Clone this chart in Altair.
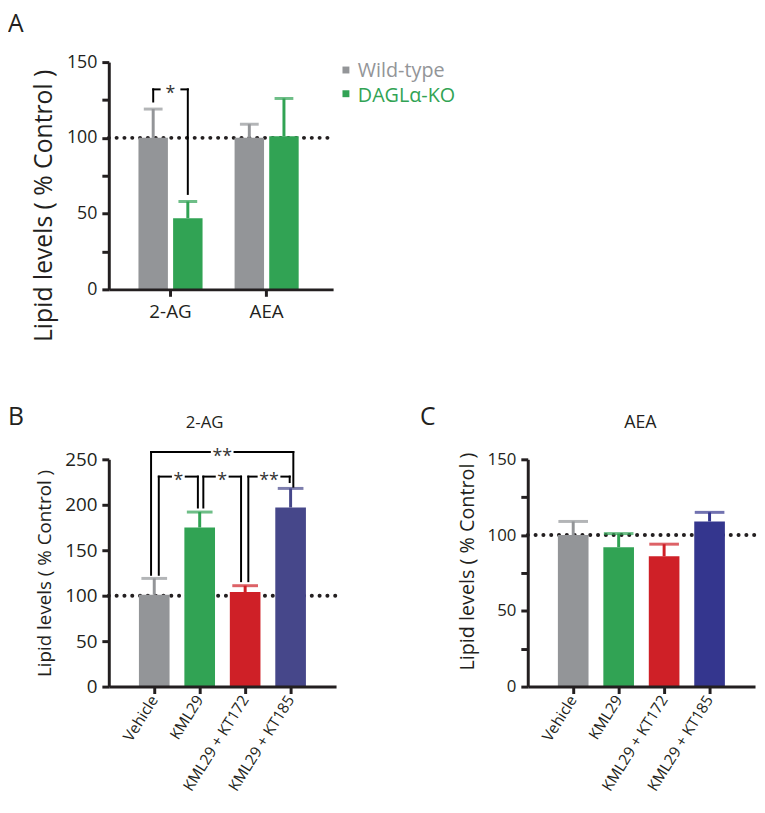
import altair as alt
import pandas as pd

FONT = "Open Sans"
INK = "#231f20"

# ---------------- data ----------------
# Panel A
lipids = ["2-AG", "AEA"]
genotypes = ["Wild-type", "DAGLα-KO"]
a_wt_mean = [100, 100]
a_wt_err = [119, 109]
a_ko_mean = [47, 101]
a_ko_err = [58, 126]
a_colors = ["#939598", "#31a354"]

# Panels B / C
treatments = ["Vehicle", "KML29", "KML29 + KT172", "KML29 + KT185"]
b_mean = [101, 175, 104, 197]
b_err = [119, 192, 111, 218]
b_colors = ["#939598", "#31a354", "#cf2027", "#46478a"]
c_mean = [100, 92, 86, 109]
c_err = [109, 101, 94, 115]
c_colors = ["#939598", "#31a354", "#cf2027", "#34368e"]

control_level = [100]

# significance brackets (x in category units, 0 = first category centre)
a_br_left = [-0.18]
a_br_right = [0.18]
a_br_level = [132]
a_br_end_left = [124]
a_br_end_right = [63]
a_br_label = ["*"]

b_br_left = [-0.07, 0.10, 1.08, 2.07]
b_br_right = [3.06, 0.96, 1.91, 2.98]
b_br_level = [258, 231, 231, 231]
b_br_end_left = [123, 123, 197, 116]
b_br_end_right = [220, 197, 116, 225]
b_br_label = ["**", "*", "*", "**"]

panel_letters = ["A", "B", "C"]
panel_titles = ["2-AG", "AEA"]
y_title = "Lipid levels ( % Control )"

# ---------------- geometry ----------------
H = 230
W_A = 227
PI_A, PO_A, AL_A = 1 / 3, 1 / 3, 0.463
W_B = 230
PI_B, PO_B = 0.326, 0.663


def band_to_linear(n, width, pi, po, align):
    step = width / (n - pi + 2 * po)
    start = (width - step * (n - pi)) * align
    c0 = start + step * (1 - pi) / 2
    return [-c0 / step, (width - c0) / step], step


def bracket_frames(left, right, level, end_l, end_r, labels, gap_px, step):
    segs, stars = [], []
    for xl, xr, yl, el, er, lab in zip(left, right, level, end_l, end_r, labels):
        xc = (xl + xr) / 2
        g = gap_px[lab] / step / 2
        segs += [
            dict(x=xl, x2=xl, y=yl, y2=el),
            dict(x=xr, x2=xr, y=yl, y2=er),
            dict(x=xl, x2=xc - g, y=yl, y2=yl),
            dict(x=xc + g, x2=xr, y=yl, y2=yl),
        ]
        stars.append(dict(x=xc, y=yl, label=lab))
    return pd.DataFrame(segs), pd.DataFrame(stars)


def y_axis(values, label_every, label_size, title_size, title_y=None):
    kw = dict(
        values=values,
        labelExpr=f"datum.value % {label_every} == 0 ? datum.label : ''",
        title=y_title, titleFontSize=title_size, titleFontWeight="normal",
        titleColor=INK, titleFont=FONT, titlePadding=10,
        labelFontSize=label_size, labelColor=INK, labelFont=FONT, labelPadding=5,
        tickSize=7, tickWidth=3, tickColor=INK, domainColor=INK, domainWidth=3,
        grid=False, zindex=1,
    )
    if title_y is not None:
        kw["titleY"] = title_y
    return alt.Axis(**kw)


def x_axis(angle, size, pad):
    return alt.Axis(title=None, labelAngle=angle, labelFontSize=size, labelColor=INK,
                    labelFont=FONT, labelPadding=pad, tickSize=7, tickWidth=3,
                    tickColor=INK, domainColor=INK, domainWidth=3, zindex=1)


def dotted(width, yscale, yax):
    return alt.Chart(pd.DataFrame({"ref": control_level})).mark_rule(
        strokeDash=[0.1, 7.8], strokeCap="round", strokeWidth=4, color=INK
    ).encode(y=alt.Y("ref:Q", scale=yscale, axis=yax), x=alt.value(0), x2=alt.value(width))


def bracket_layers(seg_df, star_df, dom, yscale, yax, star_size):
    xs = alt.Scale(domain=dom, nice=False, zero=False)
    lines = alt.Chart(seg_df).mark_rule(strokeWidth=2, strokeCap="square", color="#000000").encode(
        x=alt.X("x:Q", scale=xs, axis=None), x2="x2:Q",
        y=alt.Y("y:Q", scale=yscale, axis=yax), y2="y2:Q")
    stars = alt.Chart(star_df).mark_text(fontSize=star_size, font=FONT, color="#333333",
                                         baseline="middle", dy=5).encode(
        x=alt.X("x:Q", scale=xs, axis=None),
        y=alt.Y("y:Q", scale=yscale, axis=yax), text="label:N")
    return [lines, stars]


def text_layer(txt, x, y, size, align="left", baseline="top"):
    return alt.Chart(pd.DataFrame({"t": [txt]})).mark_text(
        align=align, baseline=baseline, fontSize=size, font=FONT, color=INK
    ).encode(x=alt.value(x), y=alt.value(y), text="t:N")


# ---------------- panel A ----------------
a_df = pd.DataFrame({
    "lipid": lipids * 2,
    "genotype": [genotypes[0]] * len(lipids) + [genotypes[1]] * len(lipids),
    "mean": a_wt_mean + a_ko_mean,
    "err": a_wt_err + a_ko_err,
})
a_dom, a_step = band_to_linear(len(lipids), W_A, PI_A, PO_A, AL_A)
yscale_a = alt.Scale(domain=[0, 150], nice=False)
yax_a = y_axis(list(range(0, 151, 25)), 50, 18, 25, 145)


def x_a(axis):
    return alt.X("lipid:N", sort=lipids,
                 scale=alt.Scale(domain=lipids, paddingInner=PI_A, paddingOuter=PO_A, align=AL_A),
                 axis=axis)


xoff_a = alt.XOffset("genotype:N", sort=genotypes,
                     scale=alt.Scale(domain=genotypes, paddingInner=0.15, paddingOuter=0))
color_a = alt.Color("genotype:N", scale=alt.Scale(domain=genotypes, range=a_colors), legend=None)
base_a = alt.Chart(a_df)
bars_a = base_a.mark_bar().encode(
    x=x_a(x_axis(0, 19, 6)), xOffset=xoff_a,
    y=alt.Y("mean:Q", scale=yscale_a, axis=yax_a), color=color_a)
err_a = base_a.mark_rule(strokeWidth=3).encode(
    x=x_a(None), xOffset=xoff_a,
    y=alt.Y("mean:Q", scale=yscale_a, axis=yax_a), y2="err:Q", color=color_a)
cap_a = base_a.mark_tick(thickness=3, size=19).encode(
    x=x_a(None), xOffset=xoff_a,
    y=alt.Y("err:Q", scale=yscale_a, axis=yax_a), color=color_a)
seg_a, star_a = bracket_frames(a_br_left, a_br_right, a_br_level, a_br_end_left,
                               a_br_end_right, a_br_label, {"*": 22, "**": 30}, a_step)
legend_a = []
for i, (g, col) in enumerate(zip(genotypes, a_colors)):
    d = pd.DataFrame({"name": [g]})
    legend_a.append(alt.Chart(d).mark_square(size=49, opacity=1, color=col).encode(
        x=alt.value(240), y=alt.value(8 + 24 * i)))
    legend_a.append(alt.Chart(d).mark_text(align="left", baseline="middle", fontSize=20,
                                           font=FONT, color=col).encode(
        x=alt.value(252), y=alt.value(9 + 25 * i), text="name:N"))

panel_a = alt.layer(
    dotted(W_A, yscale_a, yax_a), bars_a, err_a, cap_a,
    *bracket_layers(seg_a, star_a, a_dom, yscale_a, yax_a, 18),
    *legend_a, text_layer(panel_letters[0], -102, -50, 25),
).resolve_scale(x="independent").properties(width=W_A, height=H)


# ---------------- panels B and C ----------------
def treatment_panel(means, errs, colors, ymax, ystep, label_size, title_size, title_y,
                    title, title_x, title_font, letter, letter_x, cap_size, brackets=None):
    df = pd.DataFrame({"treatment": treatments, "mean": means, "err": errs})
    yscale = alt.Scale(domain=[0, ymax], nice=False)
    yax = y_axis(list(range(0, ymax + 1, ystep)), 50, label_size, title_size, title_y)

    def xb(axis):
        return alt.X("treatment:N", sort=treatments,
                     scale=alt.Scale(domain=treatments, paddingInner=PI_B, paddingOuter=PO_B),
                     axis=axis)

    color = alt.Color("treatment:N", scale=alt.Scale(domain=treatments, range=colors), legend=None)
    base = alt.Chart(df)
    bars = base.mark_bar().encode(x=xb(x_axis(302, 15.5, 3)),
                                  y=alt.Y("mean:Q", scale=yscale, axis=yax), color=color)
    err = base.mark_rule(strokeWidth=3).encode(x=xb(None),
                                               y=alt.Y("mean:Q", scale=yscale, axis=yax),
                                               y2="err:Q", color=color)
    cap = base.mark_tick(thickness=3, size=cap_size).encode(
        x=xb(None), y=alt.Y("err:Q", scale=yscale, axis=yax), color=color)
    layers = [dotted(W_B, yscale, yax), bars, err, cap]
    if brackets is not None:
        dom, step = band_to_linear(len(treatments), W_B, PI_B, PO_B, 0.5)
        seg, star = bracket_frames(*brackets, {"*": 15, "**": 25}, step)
        layers += bracket_layers(seg, star, dom, yscale, yax, 18)
    layers.append(text_layer(title, title_x, -32, title_font, align="center",
                             baseline="alphabetic"))
    layers.append(text_layer(letter, letter_x, -55, 25))
    return alt.layer(*layers).resolve_scale(x="independent").properties(width=W_B, height=H)


panel_b = treatment_panel(b_mean, b_err, b_colors, 250, 50, 19, 19, None,
                          panel_titles[0], 97, 17, panel_letters[1], -102, 26,
                          (b_br_left, b_br_right, b_br_level, b_br_end_left,
                           b_br_end_right, b_br_label))
panel_c = treatment_panel(c_mean, c_err, c_colors, 150, 25, 17, 20, 103,
                          panel_titles[1], 114, 18, panel_letters[2], -109, 30)

chart = alt.vconcat(
    panel_a,
    alt.hconcat(panel_b, panel_c, spacing=83).resolve_scale(color="independent"),
    spacing=64,
).resolve_scale(color="independent").properties(
    padding={"left": 0, "top": 0, "right": 0, "bottom": 0}
).configure_view(stroke=None)

chart.save("out.html", embed_options={"renderer": "svg", "actions": False})
